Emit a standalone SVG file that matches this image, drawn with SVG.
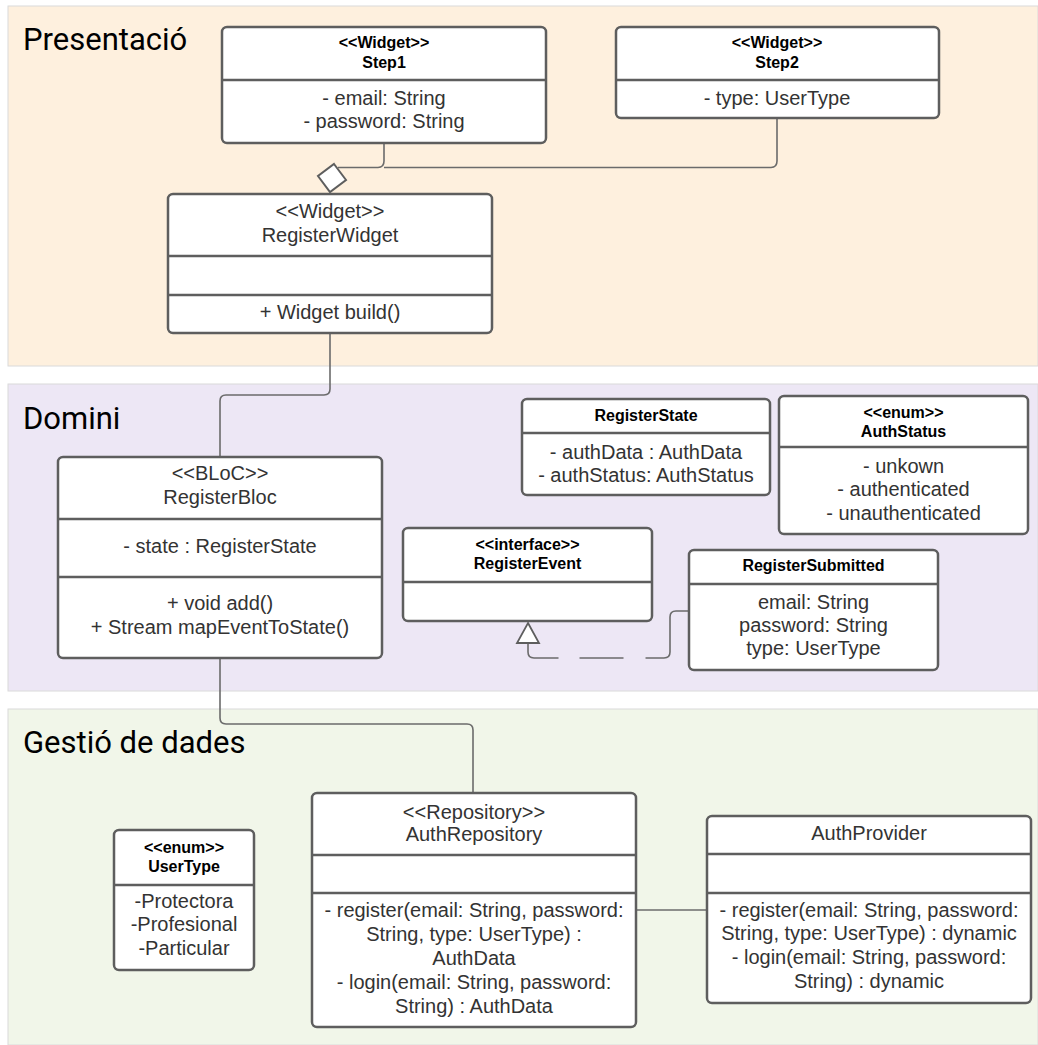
<svg xmlns="http://www.w3.org/2000/svg" width="1038" height="1045" viewBox="0 0 1038 1045">
<style>
.sec{stroke:#dadada;stroke-width:1}
.title{font-family:Roboto,"Liberation Sans",sans-serif;font-size:31px;fill:#000}
.box{fill:#fff;stroke:#5e5e5e;stroke-width:2.5}
.div{stroke:#5e5e5e;stroke-width:2.5}
.t{font-family:"Liberation Sans",Arial,sans-serif;font-size:20px;fill:#333;text-anchor:middle}
.b{font-family:"Liberation Sans",Arial,sans-serif;font-size:16px;font-weight:bold;fill:#000;text-anchor:middle}
.con{fill:none;stroke:#6b6b6b;stroke-width:1.6}
</style>
<g id="sections">
<rect class="sec" x="8" y="6" width="1030" height="360" fill="#FEF0DE"/>
<rect class="sec" x="8" y="384" width="1030" height="307" fill="#EDE7F5"/>
<rect class="sec" x="8" y="709" width="1030" height="336" fill="#F1F6E9"/>
<text class="title" x="23" y="50">Presentació</text>
<text class="title" x="23" y="429">Domini</text>
<text class="title" x="23" y="753">Gestió de dades</text>
</g>
<g id="connectors">
<path class="con" d="M384,143 V161 Q384,167.5 378,167.5 H338"/>
<path class="con" d="M384,167.5 H771 Q777,167.5 777,161 V118"/>
<polygon points="334,164 346,180 330,192 318,176" fill="#fff" stroke="#5e5e5e" stroke-width="2"/>
<path class="con" d="M330,333 V389 Q330,395 324,395 H226 Q220,395 220,401 V457"/>
<path class="con" d="M220,658 V718 Q220,724 226,724 H467 Q473,724 473,730 V793"/>
<path class="con" d="M636,910 H707"/>
<path class="con" stroke-dasharray="43 21 44 22 200" d="M528,643 V652 Q528,658 534,658 H664 Q670,658 670,652 V617 Q670,611 676,611 H689"/>
<polygon points="528,623 539,643 517,643" fill="#fff" stroke="#5e5e5e" stroke-width="1.8"/>
</g>
<g id="Step1">
<rect class="box" x="222" y="27" width="324" height="116" rx="5"/>
<line class="div" x1="222" y1="80" x2="546" y2="80"/>
<text class="b" x="384" y="48">&lt;&lt;Widget&gt;&gt;</text>
<text class="b" x="384" y="68">Step1</text>
<text class="t" x="384" y="105">- email: String</text>
<text class="t" x="384" y="128">- password: String</text>
</g>
<g id="Step2">
<rect class="box" x="616" y="27" width="323" height="91" rx="5"/>
<line class="div" x1="616" y1="80" x2="939" y2="80"/>
<text class="b" x="777" y="48">&lt;&lt;Widget&gt;&gt;</text>
<text class="b" x="777" y="68">Step2</text>
<text class="t" x="777" y="105">- type: UserType</text>
</g>
<g id="RegisterWidget">
<rect class="box" x="168" y="194" width="324" height="139" rx="5"/>
<line class="div" x1="168" y1="256" x2="492" y2="256"/>
<line class="div" x1="168" y1="295" x2="492" y2="295"/>
<text class="t" x="330" y="218">&lt;&lt;Widget&gt;&gt;</text>
<text class="t" x="330" y="242">RegisterWidget</text>
<text class="t" x="330" y="319">+ Widget build()</text>
</g>
<g id="RegisterBloc">
<rect class="box" x="58" y="457" width="324" height="201" rx="5"/>
<line class="div" x1="58" y1="519" x2="382" y2="519"/>
<line class="div" x1="58" y1="577" x2="382" y2="577"/>
<text class="t" x="220" y="480">&lt;&lt;BLoC&gt;&gt;</text>
<text class="t" x="220" y="504">RegisterBloc</text>
<text class="t" x="220" y="553">- state : RegisterState</text>
<text class="t" x="220" y="610">+ void add()</text>
<text class="t" x="220" y="634">+ Stream mapEventToState()</text>
</g>
<g id="RegisterState">
<rect class="box" x="522" y="399" width="248" height="96" rx="5"/>
<line class="div" x1="522" y1="433" x2="770" y2="433"/>
<text class="b" x="646" y="421">RegisterState</text>
<text class="t" x="646" y="459">- authData : AuthData</text>
<text class="t" x="646" y="482">- authStatus: AuthStatus</text>
</g>
<g id="AuthStatus">
<rect class="box" x="779" y="396" width="249" height="138" rx="5"/>
<line class="div" x1="779" y1="447" x2="1028" y2="447"/>
<text class="b" x="903.5" y="418">&lt;&lt;enum&gt;&gt;</text>
<text class="b" x="903.5" y="437">AuthStatus</text>
<text class="t" x="903.5" y="473">- unkown</text>
<text class="t" x="903.5" y="496">- authenticated</text>
<text class="t" x="903.5" y="520">- unauthenticated</text>
</g>
<g id="RegisterEvent">
<rect class="box" x="403" y="528" width="249" height="93" rx="5"/>
<line class="div" x1="403" y1="582" x2="652" y2="582"/>
<text class="b" x="527.5" y="550">&lt;&lt;interface&gt;&gt;</text>
<text class="b" x="527.5" y="569">RegisterEvent</text>
</g>
<g id="RegisterSubmitted">
<rect class="box" x="689" y="550" width="249" height="120" rx="5"/>
<line class="div" x1="689" y1="584" x2="938" y2="584"/>
<text class="b" x="813.5" y="571">RegisterSubmitted</text>
<text class="t" x="813.5" y="609">email: String</text>
<text class="t" x="813.5" y="632">password: String</text>
<text class="t" x="813.5" y="655">type: UserType</text>
</g>
<g id="UserType">
<rect class="box" x="114" y="830" width="140" height="140" rx="5"/>
<line class="div" x1="114" y1="885" x2="254" y2="885"/>
<text class="b" x="184" y="853">&lt;&lt;enum&gt;&gt;</text>
<text class="b" x="184" y="872">UserType</text>
<text class="t" x="184" y="908">-Protectora</text>
<text class="t" x="184" y="931">-Profesional</text>
<text class="t" x="184" y="955">-Particular</text>
</g>
<g id="AuthRepository">
<rect class="box" x="312" y="793" width="324" height="234" rx="5"/>
<line class="div" x1="312" y1="855" x2="636" y2="855"/>
<line class="div" x1="312" y1="893" x2="636" y2="893"/>
<text class="t" x="474" y="819">&lt;&lt;Repository&gt;&gt;</text>
<text class="t" x="474" y="841">AuthRepository</text>
<text class="t" x="474" y="917">- register(email: String, password:</text>
<text class="t" x="474" y="941">String, type: UserType) :</text>
<text class="t" x="474" y="965">AuthData</text>
<text class="t" x="474" y="989">- login(email: String, password:</text>
<text class="t" x="474" y="1013">String) : AuthData</text>
</g>
<g id="AuthProvider">
<rect class="box" x="707" y="816" width="324" height="187" rx="5"/>
<line class="div" x1="707" y1="854" x2="1031" y2="854"/>
<line class="div" x1="707" y1="893" x2="1031" y2="893"/>
<text class="t" x="869" y="840">AuthProvider</text>
<text class="t" x="869" y="917">- register(email: String, password:</text>
<text class="t" x="869" y="940">String, type: UserType) : dynamic</text>
<text class="t" x="869" y="964">- login(email: String, password:</text>
<text class="t" x="869" y="988">String) : dynamic</text>
</g>
</svg>
